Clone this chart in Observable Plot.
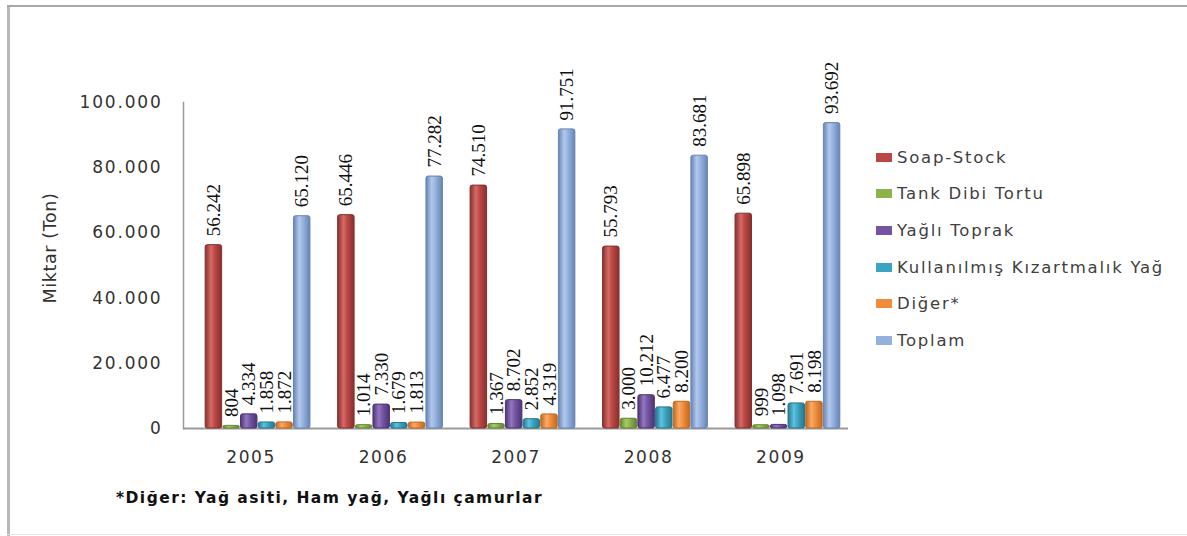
<!DOCTYPE html>
<html>
<head>
<meta charset="utf-8">
<script src="https://cdn.jsdelivr.net/npm/d3@7"></script>
<script src="https://cdn.jsdelivr.net/npm/@observablehq/plot@0.6"></script>
<style>
  body { margin: 0; background: #fff; }
  #wrap { position: relative; width: 1187px; height: 536px; overflow: hidden; background: #fff; }
  #wrap svg.plot { position: absolute; left: 0; top: 0; }
  #wrap svg.plot g[aria-label="y-axis tick label"] { letter-spacing: 1.8px; }
  #wrap svg.plot g[aria-label="x-axis tick label"] { letter-spacing: 1.6px; }
  .bl { position: absolute; left: 7px; top: 5px; width: 3px; height: 531px; background: #b8b8b8; }
  .bt { position: absolute; left: 7px; top: 5px; width: 1180px; height: 2px; background: #a8a8a8; }
  .bb { position: absolute; left: 7px; top: 534px; width: 1180px; height: 1px; background: #e4e4e4; }
  #legend { position: absolute; left: 876px; top: 0; font-family: "DejaVu Sans", sans-serif; font-size: 16.5px; letter-spacing: 1.75px; color: #404040; }
  #legend .item { position: absolute; left: 0; white-space: nowrap; display: flex; align-items: center; height: 20px; }
  #legend .sw { width: 16px; height: 9px; margin-right: 5px; }
  #note { position: absolute; left: 116px; top: 489px; font-family: "DejaVu Sans", sans-serif; font-weight: bold; font-size: 15.5px; letter-spacing: 1.45px; color: #111; white-space: nowrap; }
  #ytitle { position: absolute; left: 50px; top: 248px; transform: translate(-50%, -50%) rotate(-90deg); font-family: "DejaVu Sans", sans-serif; font-size: 17.5px; letter-spacing: 0.6px; color: #333; white-space: nowrap; }
</style>
</head>
<body>
<svg width="0" height="0" style="position:absolute">
  <defs id="gradDefs"></defs>
</svg>
<div id="wrap">
  <div class="bl"></div><div class="bt"></div><div class="bb"></div>
  <div id="ytitle">Miktar (Ton)</div>
  <div id="legend"></div>
  <div id="note">*Diğer: Yağ asiti, Ham yağ, Yağlı çamurlar</div>
</div>
<script>
// ---- data ----
const years = ["2005", "2006", "2007", "2008", "2009"];
const seriesNames = ["Soap-Stock", "Tank Dibi Tortu", "Yağlı Toprak", "Kullanılmış Kızartmalık Yağ", "Diğer*", "Toplam"];
const soapStock   = [56242, 65446, 74510, 55793, 65898];
const tankDibi    = [804, 1014, 1367, 3000, 999];
const yagliToprak = [4334, 7330, 8702, 10212, 1098];
const kullanilmis = [1858, 1679, 2852, 6477, 7691];
const diger       = [1872, 1813, 4319, 8200, 8198];
const toplam      = [65120, 77282, 91751, 83681, 93692];
const yTicks = [0, 20000, 40000, 60000, 80000, 100000];

const seriesValues = [soapStock, tankDibi, yagliToprak, kullanilmis, diger, toplam];
const colors  = ["#b94744", "#8db24c", "#7454a1", "#3ba4c1", "#f08d3d", "#94b0dc"];
const darks   = ["#86302e", "#62832f", "#4d3476", "#24778f", "#c06820", "#6784b6"];
const lights  = ["#d46a66", "#a9cc6a", "#9377bf", "#62c1da", "#f9aa66", "#b3c9ec"];

// gradients for cylinder look
const defs = d3.select("#gradDefs");
colors.forEach((c, i) => {
  const g = defs.append("linearGradient").attr("id", "g" + i).attr("x1", "0").attr("x2", "1").attr("y1", "0").attr("y2", "0");
  g.append("stop").attr("offset", "0%").attr("stop-color", darks[i]);
  g.append("stop").attr("offset", "35%").attr("stop-color", lights[i]);
  g.append("stop").attr("offset", "60%").attr("stop-color", c);
  g.append("stop").attr("offset", "100%").attr("stop-color", darks[i]);
});

const trLocale = d3.formatLocale({decimal: ",", thousands: ".", grouping: [3], currency: ["", ""]});
const fmt = trLocale.format(",d");

const rows = seriesValues.map((vals, i) => years.map((y, j) => ({year: y, series: seriesNames[i], value: vals[j]})));

// x band geometry
const mL = 183, mR = 339, W = 1187;
const pI = 0.2, pO = 0.11;
const step = (W - mL - mR) / (years.length - pI + 2 * pO);
const bw = step * (1 - pI);
const w = bw / seriesNames.length;

const marks = [];
rows.forEach((data, i) => {
  marks.push(Plot.barY(data, {
    x: "year", y: "value",
    fill: `url(#g${i})`, stroke: darks[i], strokeWidth: 1,
    insetLeft: i * w + 0.6, insetRight: (seriesNames.length - 1 - i) * w + 0.6,
    rx: 2
  }));
});
rows.forEach((data, i) => {
  marks.push(Plot.text(data, {
    x: "year", y: "value", text: d => fmt(d.value),
    rotate: -90, textAnchor: "start", lineAnchor: "middle",
    dx: (i - (seriesNames.length - 1) / 2) * w, dy: -9,
    fontFamily: "Liberation Serif, serif", fontSize: 19, fill: "#111"
  }));
});

const chart = Plot.plot({
  width: W, height: 536,
  marginLeft: mL, marginRight: mR, marginTop: 102, marginBottom: 108,
  style: {background: "transparent", overflow: "visible"},
  x: {type: "band", domain: years, paddingInner: pI, paddingOuter: pO, align: 0.74, round: false, label: null},
  y: {domain: [0, 100000], label: null},
  marks: [
    Plot.axisY(yTicks, {tickSize: 0, tickPadding: 21, tickFormat: d => fmt(d), fontFamily: "DejaVu Sans, sans-serif", fontSize: 17, fill: "#333"}),
    Plot.axisX({tickSize: 0, tickPadding: 22, dx: -7, fontFamily: "DejaVu Sans, sans-serif", fontSize: 17, fill: "#333"}),
    Plot.frame({anchor: "left", stroke: "#9a9a9a", strokeWidth: 1.5}),
    Plot.ruleY([0], {stroke: "#9a9a9a", strokeWidth: 2}),
    ...marks
  ]
});
chart.classList.add("plot");
document.getElementById("wrap").appendChild(chart);

// legend
const legendY = [157, 193, 230, 267, 303, 340];
const legend = document.getElementById("legend");
seriesNames.forEach((s, i) => {
  const it = document.createElement("div");
  it.className = "item";
  it.style.top = (legendY[i] - 10) + "px";
  it.innerHTML = `<span class="sw" style="background:${colors[i]}"></span><span>${s}</span>`;
  legend.appendChild(it);
});
</script>
</body>
</html>
